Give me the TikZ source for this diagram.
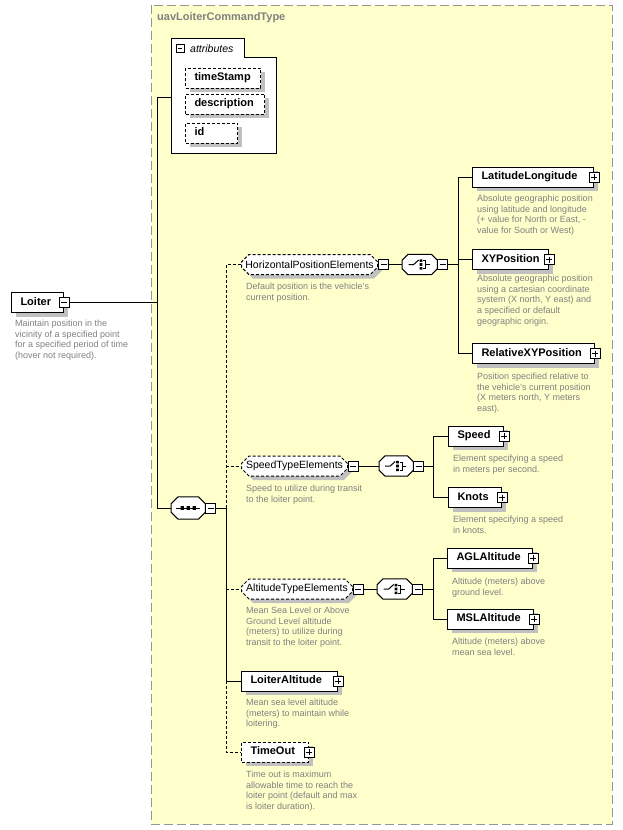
\documentclass[tikz,border=0pt]{standalone}
\usepackage{fontspec}
\setmainfont{Liberation Sans}
\usetikzlibrary{positioning,calc,shapes.misc,shadows}

\definecolor{typefill}{RGB}{255,255,204}
\definecolor{typeline}{RGB}{150,150,150}
\definecolor{desctext}{RGB}{128,128,128}
\definecolor{shade}{RGB}{192,192,192}

\tikzset{
  boxshadow/.style={drop shadow={shadow xshift=4pt, shadow yshift=-4pt, fill=shade, opacity=1}},
  elem/.style={draw, fill=white, line width=1pt, anchor=west, minimum height=20pt, inner xsep=9pt, inner ysep=0pt,
    text height=8pt, text depth=2.5pt, align=left, font=\fontsize{11}{13}\selectfont\bfseries, boxshadow},
  optelem/.style={elem, dash pattern=on 3pt off 2pt},
  grp/.style={chamfered rectangle, chamfered rectangle xsep=4pt, draw, fill=white, line width=1pt, dash pattern=on 3pt off 2pt,
    anchor=west, minimum height=20pt, inner xsep=0pt, inner ysep=0pt, font=\fontsize{10.5}{12}\selectfont, boxshadow},
  comp/.style={minimum width=34pt, minimum height=20pt, inner sep=0pt, anchor=west},
  tog/.style={draw, fill=white, line width=0.8pt, minimum size=10pt, inner sep=0pt,
    path picture={\draw[line width=0.8pt] ([xshift=2pt]path picture bounding box.west) -- ([xshift=-2pt]path picture bounding box.east);}},
  plustog/.style={tog,
    path picture={\draw[line width=0.8pt] ([xshift=2pt]path picture bounding box.west) -- ([xshift=-2pt]path picture bounding box.east)
      ([yshift=-2pt]path picture bounding box.north) -- ([yshift=2pt]path picture bounding box.south);}},
  desc/.style={anchor=north west, inner sep=0pt, align=left, text=desctext, font=\fontsize{9}{10.8}\selectfont},
  link/.style={line width=1pt},
  optlink/.style={line width=1pt, dash pattern=on 3pt off 2pt}
}

% octagon round a compositor node: #1 node, #2 chamfer, #3 path options
\newcommand\octpath[3]{%
  \path[#3] ($(#1.north west)+(#2,0)$) -- ($(#1.north east)+(-#2,0)$) -- ($(#1.north east)+(0,#2)$)
    -- ($(#1.south east)+(0,-#2)$) -- ($(#1.south east)+(-#2,0)$) -- ($(#1.south west)+(#2,0)$)
    -- ($(#1.south west)+(0,-#2)$) -- ($(#1.north west)+(0,#2)$) -- cycle;}
\newcommand\compshape[2]{%
  \octpath{#1}{#2}{fill=shade, shift={(4,4)}}
  \octpath{#1}{#2}{fill=white, draw=black, line width=1pt}}
\newcommand\choicemark[1]{%
  \begin{scope}[shift={(#1)}, line width=1pt]
    \draw (-11,0) -- (-6,0) -- (-1,-4.5);
    \fill (0,-5.2) rectangle (2.6,-2.6) (0,-1.3) rectangle (2.6,1.3) (0,2.6) rectangle (2.6,5.2);
    \draw (3.5,-4) -- (6,-4) -- (6,4) -- (3.5,4) (6,0) -- (10,0);
  \end{scope}}
\newcommand\seqmark[1]{%
  \begin{scope}[shift={(#1)}, line width=1pt]
    \draw (-12,0) -- (12,0);
    \fill (-7.7,-1.8) rectangle (-4.3,1.8) (-1.7,-1.8) rectangle (1.7,1.8) (4.3,-1.8) rectangle (7.7,1.8);
  \end{scope}}

\begin{document}
\begin{tikzpicture}[x=1pt,y=-1pt]
\useasboundingbox (0,0) rectangle (622,830);

\draw[typeline, dash pattern=on 9pt off 4pt, fill=typefill, line width=1pt] (151,5) rectangle (612,824);
\node[anchor=west, inner sep=0pt, text=desctext, font=\fontsize{11}{13}\selectfont\bfseries] (typename) at (157,18) {uavLoiterCommandType};

% root element
\node[elem, text width=34pt] (loiter) at (11,302.5) {Loiter};
\node[tog] (loitertog) at (loiter.east) {};
\node[desc] (loiterdesc) at (15,319.5) {Maintain position in the\\vicinity of a specified point\\for a specified period of time\\(hover not required).};

% attributes
\draw[link, fill=white] (171,38) -- (244,38) -- (244,57) -- (276,57) -- (276,153) -- (171,153) -- cycle;
\coordinate (attrin) at (171,97);
\node[tog, minimum size=8pt] (attrtog) at (180,48.5) {};
\node[anchor=west, inner sep=0pt, font=\fontsize{10.5}{12}\selectfont\itshape] (attrlabel) at (190,48.5) {attributes};
\node[optelem, text width=57pt] (timestamp) at (185,78) {timeStamp};
\node[optelem, text width=61pt] (description) at (185,104) {description};
\node[optelem, text width=34pt] (id) at (185,133) {id};

% sequence
\node[comp, minimum height=22pt] (seq) at (171,508) {};
\compshape{seq}{7}
\seqmark{seq.center}
\node[tog, anchor=west] (seqtog) at (seq.east) {};

\coordinate (trunk) at (157,97);
\draw[link] (loitertog.east) -- (loitertog.east -| trunk);
\draw[link] (attrin) -- (trunk) |- (seq.west);

% horizontal position
\node[grp, minimum width=136pt] (hgroup) at (241,264.5) {HorizontalPositionElements};
\node[tog, anchor=west] (hgrouptog) at (hgroup.east) {};
\node[desc] (hdesc) at (246,282.5) {Default position is the vehicle's\\current position.};
\node[comp, minimum width=35pt] (hchoice) at (402,264.5) {};
\compshape{hchoice}{6}
\choicemark{hchoice.center}
\node[tog, anchor=west] (hchoicetog) at (hchoice.east) {};

\node[elem, text width=103pt] (latlong) at (472,177) {LatitudeLongitude};
\node[plustog] (latlongtog) at (latlong.east) {};
\node[desc] (latlongdesc) at (477,194.5) {Absolute geographic position\\using latitude and longitude\\(+ value for North or East, -\\value for South or West)};
\node[elem, text width=58pt] (xypos) at (472,259.5) {XYPosition};
\node[plustog] (xypostog) at (xypos.east) {};
\node[desc] (xyposdesc) at (477,274.5) {Absolute geographic position\\using a cartesian coordinate\\system (X north, Y east) and\\a specified or default\\geographic origin.};
\node[elem, text width=104pt] (relxy) at (472,353.5) {RelativeXYPosition};
\node[plustog] (relxytog) at (relxy.east) {};
\node[desc] (relxydesc) at (477,372.5) {Position specified relative to\\the vehicle's current position\\(X meters north, Y meters\\east).};

\draw[link] (hgrouptog.east) -- (hchoice.west);
\draw[link] (hchoicetog.east) -- ++(10,0) coordinate (hfork);
\draw[link] (latlong.west) -| (hfork |- relxy.west) -- (relxy.west);
\draw[link] (xypos.west) -- (xypos.west -| hfork);

% speed
\node[grp, minimum width=106pt] (sgroup) at (241,466) {SpeedTypeElements};
\node[tog, anchor=west] (sgrouptog) at (sgroup.east) {};
\node[desc] (sdesc) at (246,484.5) {Speed to utilize during transit\\to the loiter point.};
\node[comp] (schoice) at (379,466) {};
\compshape{schoice}{6}
\choicemark{schoice.center}
\node[tog, anchor=west] (schoicetog) at (schoice.east) {};

\node[elem, text width=37pt] (speed) at (448,436) {Speed};
\node[plustog] (speedtog) at (speed.east) {};
\node[desc] (speeddesc) at (453,454.5) {Element specifying a speed\\in meters per second.};
\node[elem, text width=35pt] (knots) at (448,497.5) {Knots};
\node[plustog] (knotstog) at (knots.east) {};
\node[desc] (knotsdesc) at (453,515.5) {Element specifying a speed\\in knots.};

\draw[link] (sgrouptog.east) -- (schoice.west);
\draw[link] (schoicetog.east) -- ++(9,0) coordinate (sfork);
\draw[link] (speed.west) -| (sfork |- knots.west) -- (knots.west);

% altitude
\node[grp, minimum width=111pt] (agroup) at (241,589) {AltitudeTypeElements};
\node[tog, anchor=west] (agrouptog) at (agroup.east) {};
\node[desc] (adesc) at (246,606.5) {Mean Sea Level or Above\\Ground Level altitude\\(meters) to utilize during\\transit to the loiter point.};
\node[comp, minimum width=35pt] (achoice) at (377,589) {};
\compshape{achoice}{6}
\choicemark{achoice.center}
\node[tog, anchor=west] (achoicetog) at (achoice.east) {};

\node[elem, text width=67pt] (agl) at (447,558) {AGLAltitude};
\node[plustog] (agltog) at (agl.east) {};
\node[desc] (agldesc) at (452,577.5) {Altitude (meters) above\\ground level.};
\node[elem, text width=68pt] (msl) at (447,619) {MSLAltitude};
\node[plustog] (msltog) at (msl.east) {};
\node[desc] (msldesc) at (452,637.5) {Altitude (meters) above\\mean sea level.};

\draw[link] (agrouptog.east) -- (achoice.west);
\draw[link] (achoicetog.east) -- ++(10,0) coordinate (afork);
\draw[link] (agl.west) -| (afork |- msl.west) -- (msl.west);

% loiter altitude and time out
\node[elem, text width=78pt] (loiteralt) at (241,681) {LoiterAltitude};
\node[plustog] (loiteralttog) at (loiteralt.east) {};
\node[desc] (loiteraltdesc) at (246,698.5) {Mean sea level altitude\\(meters) to maintain while\\loitering.};
\node[optelem, text width=49pt] (timeout) at (241,752) {TimeOut};
\node[plustog] (timeouttog) at (timeout.east) {};
\node[desc] (timeoutdesc) at (246,770.5) {Time out is maximum\\allowable time to reach the\\loiter point (default and max\\is loiter duration).};

\coordinate (spine) at (226,508);
\draw[link] (seqtog.east) -- (spine);
\draw[optlink] (spine) |- (hgroup.west);
\draw[optlink] (sgroup.west -| spine) -- (sgroup.west);
\draw[link] (spine) |- (loiteralt.west);
\draw[optlink] (agroup.west -| spine) -- (agroup.west);
\draw[optlink] (loiteralt.west -| spine) |- (timeout.west);
\end{tikzpicture}
\end{document}
